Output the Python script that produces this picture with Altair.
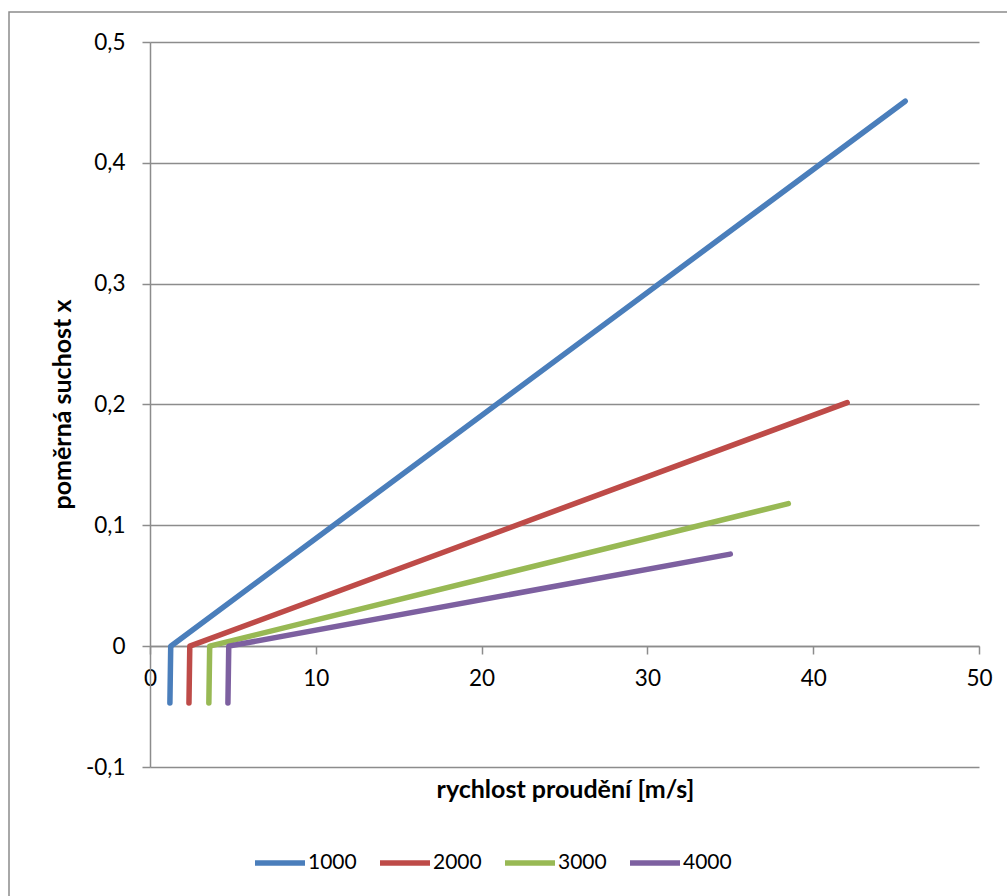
import altair as alt
import pandas as pd

series_names = ["1000", "2000", "3000", "4000"]
colors = ["#4A7EBB", "#BE4B48", "#98B954", "#7D60A0"]
start_x = [1.2, 2.35, 3.55, 4.7]
start_y = [-0.047, -0.047, -0.047, -0.047]
knee_x = [1.25, 2.4, 3.6, 4.75]
knee_y = [0.0, 0.0, 0.0, 0.0]
end_x = [45.55, 42.05, 38.5, 35.0]
end_y = [0.451, 0.2015, 0.118, 0.0762]

x_ticks = [0, 10, 20, 30, 40, 50]
y_ticks = [-0.1, 0.0, 0.1, 0.2, 0.3, 0.4, 0.5]

rows = []
for i, s in enumerate(series_names):
    rows.append({"serie": s, "o": 0, "v": start_x[i], "x": start_y[i]})
    rows.append({"serie": s, "o": 1, "v": knee_x[i], "x": knee_y[i]})
    rows.append({"serie": s, "o": 2, "v": end_x[i], "x": end_y[i]})
df = pd.DataFrame(rows)

FONT = "Lato"
GRID = "#8C8C8C"

lines = alt.Chart(df).mark_line(
    strokeWidth=5.5, strokeCap="round", strokeJoin="round"
).encode(
    x=alt.X(
        "v:Q",
        scale=alt.Scale(domain=[0, 50], nice=False, zero=False),
        axis=alt.Axis(
            values=x_ticks,
            offset=-121,
            grid=False,
            domainColor=GRID,
            domainWidth=1.5,
            tickColor=GRID,
            tickWidth=1.5,
            tickSize=8,
            labelPadding=13,
            labelFontSize=22.5,
            labelColor="#000000",
            labelFont=FONT,
            title="rychlost proudění [m/s]",
            titleFont=FONT,
            titleFontSize=25,
            titleFontWeight="bold",
            titleColor="#000000",
            titleX=415,
            titleY=143,
            titleAlign="center",
            titleBaseline="middle",
            labelFlush=False,
        ),
    ),
    y=alt.Y(
        "x:Q",
        scale=alt.Scale(domain=[-0.1, 0.5], nice=False, zero=False),
        axis=alt.Axis(
            values=y_ticks,
            grid=True,
            gridColor=GRID,
            gridWidth=1.5,
            domainColor=GRID,
            domainWidth=1.5,
            tickColor=GRID,
            tickWidth=1.5,
            tickSize=8,
            labelPadding=17,
            labelFontSize=22.5,
            labelColor="#000000",
            labelFont=FONT,
            labelExpr="abs(datum.value) < 1e-9 ? '0' : replace(replace(format(datum.value, '.1f'), '.', ','), '\u2212', '-')",
            title="poměrná suchost x",
            titleFont=FONT,
            titleFontSize=25,
            titleFontWeight="bold",
            titleColor="#000000",
            titleX=-88,
            titleY=362,
            titleAlign="center",
            titleBaseline="middle",
            labelFlush=False,
        ),
    ),
    color=alt.Color(
        "serie:N",
        scale=alt.Scale(domain=series_names, range=colors),
        legend=alt.Legend(
            title=None,
            orient="none",
            legendX=102,
            legendY=793,
            direction="horizontal",
            symbolType="stroke",
            symbolSize=2500,
            symbolStrokeWidth=5.5,
            labelFont=FONT,
            labelFontSize=21,
            labelColor="#000000",
            labelOffset=0,
            columnPadding=12,
            padding=0,
        ),
    ),
    order="o:Q",
)

border = alt.Chart(alt.Data(values=[{}])).mark_rect(
    fill=None, stroke="#8C8C8C", strokeWidth=1.5, clip=False
).encode(
    x=alt.value(-141), x2=alt.value(880), y=alt.value(-30), y2=alt.value(880)
)

chart = alt.layer(border, lines).properties(
    width=829,
    height=725,
    autosize=alt.AutoSizeParams(type="none"),
    padding={"left": 150, "top": 42, "right": 28, "bottom": 129},
    background="#FFFFFF",
).configure_view(stroke=None)

chart.save("out.html", embed_options={"renderer": "svg", "actions": False})
